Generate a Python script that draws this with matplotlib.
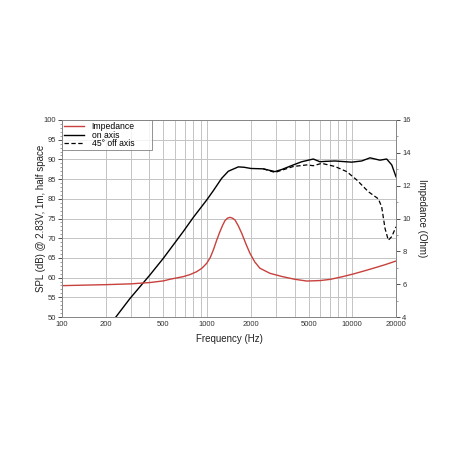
import matplotlib
matplotlib.use("Agg")
import matplotlib.pyplot as plt
from matplotlib.ticker import FixedLocator, MultipleLocator, NullFormatter, NullLocator

plt.rcParams['font.family'] = ['Liberation Sans', 'DejaVu Sans']

# Impedance (Ohm)
imp_freq = [100, 200, 300, 404, 500, 555, 685, 760, 847, 920, 993, 1050, 1103, 1160,
            1225, 1280, 1327, 1380, 1437, 1495, 1555, 1640, 1730, 1850, 1972, 2130,
            2310, 2710, 3300, 4000, 4853, 6000, 7020, 8500, 10160, 12000, 14720,
            17000, 20000]
imp_ohm = [5.91, 5.97, 6.02, 6.10, 6.20, 6.30, 6.46, 6.58, 6.76, 6.97, 7.27, 7.62, 8.08, 8.65,
           9.20, 9.60, 9.87, 10.02, 10.07, 10.02, 9.91, 9.55, 9.10, 8.45, 7.88, 7.35,
           6.97, 6.66, 6.46, 6.30, 6.19, 6.22, 6.29, 6.45, 6.62, 6.80, 7.03,
           7.20, 7.41]

# On-axis SPL (dB)
on_freq = [235, 294, 404, 499, 685, 800, 993, 1100, 1259, 1400, 1639, 1800, 2000, 2437,
           2934, 3300, 3923, 4480, 5387, 5987, 6500, 7600, 9900, 11600, 13250,
           15500, 17250, 18700, 20000]
on_spl = [50.0, 54.7, 60.7, 64.9, 71.7, 75.2, 79.7, 82.0, 85.2, 87.0, 88.1, 88.0, 87.7, 87.6,
          86.9, 87.5, 88.6, 89.4, 90.1, 89.4, 89.5, 89.6, 89.3, 89.6, 90.4,
          89.8, 90.1, 88.6, 85.6]

# 45 deg off-axis SPL (dB)
off_freq = [2437, 2934, 3300, 3923, 4853, 5387, 6150, 7600, 9150, 10720, 12900,
            15100, 15930, 16800, 17700, 18700, 20000]
off_spl = [87.6, 86.7, 87.3, 88.2, 88.6, 88.4, 89.0, 88.2, 86.9, 84.8, 81.8,
           80.0, 78.0, 72.5, 69.5, 70.4, 72.9]

xticks = [100, 200, 500, 1000, 2000, 5000, 10000, 20000]
xtick_labels = ['100', '200', '500', '1000', '2000', '5000', '10000', '20000']
grid_freqs = [100, 200, 300, 400, 500, 600, 700, 800, 900, 1000, 2000, 3000, 4000,
              5000, 6000, 7000, 8000, 9000, 10000, 20000]

fig = plt.figure(figsize=(4.58, 4.58), dpi=100)
ax = fig.add_axes([62/458, 1-317/458, 334/458, 197/458])
ax2 = ax.twinx()

ax.set_xscale('log')
ax.set_xlim(100, 20000)
ax.set_ylim(50, 100)
ax2.set_ylim(4, 16)

gcol = '#c4c4c4'
for f in grid_freqs:
    ax.axvline(f, color=gcol, lw=0.7, zorder=0)
for v in range(55, 100, 5):
    ax.axhline(v, color=gcol, lw=0.7, zorder=0)

l1, = ax2.plot(imp_freq, imp_ohm, color='#c8413c', lw=1.0, label='Impedance')
l2, = ax.plot(on_freq, on_spl, color='black', lw=1.0, label='on axis')
l3, = ax.plot(off_freq, off_spl, color='black', lw=0.9, ls=(0, (3.5, 2)), label='45° off axis')

ax.xaxis.set_major_locator(FixedLocator(xticks))
ax.set_xticklabels(xtick_labels)
ax.xaxis.set_minor_locator(NullLocator())
ax.xaxis.set_minor_formatter(NullFormatter())
ax.tick_params(axis='x', length=0, labelsize=5.5, colors='#333333', pad=3)

ax.yaxis.set_major_locator(MultipleLocator(5))
ax.yaxis.set_minor_locator(MultipleLocator(1))
ax.tick_params(axis='y', which='major', length=3, width=0.6, labelsize=5.5,
               colors='#333333', pad=1.5)
ax.tick_params(axis='y', which='minor', length=1.5, width=0.5, color='#777777')

ax2.yaxis.set_major_locator(MultipleLocator(2))
ax2.yaxis.set_minor_locator(MultipleLocator(1))
ax2.tick_params(axis='y', which='major', length=3, width=0.6, labelsize=5.5,
                colors='#333333', pad=1.5)
ax2.tick_params(axis='y', which='minor', length=1.5, width=0.5, color='#777777')

for a in (ax, ax2):
    for s in a.spines.values():
        s.set_color('#888888')
        s.set_linewidth(0.7)

ax.set_xlabel('Frequency (Hz)', fontsize=7, color='#222222', labelpad=4)
ax.set_ylabel('SPL (dB) @ 2.83V, 1m, half space', fontsize=7, color='#222222', labelpad=-2)
ax2.set_ylabel('Impedance (Ohm)', fontsize=7, color='#222222', rotation=270, labelpad=12)

leg = ax2.legend(handles=[l1, l2, l3], loc='upper left',
                 bbox_to_anchor=(0, 1, 90/334, 0), mode='expand',
                 fontsize=6.2, frameon=True, fancybox=False, borderpad=0.25,
                 labelspacing=-0.05, handlelength=2.3, handletextpad=0.9,
                 borderaxespad=0.0)
leg.get_frame().set_edgecolor('#777777')
leg.get_frame().set_linewidth(0.7)

fig.savefig('out.png', dpi=100)
